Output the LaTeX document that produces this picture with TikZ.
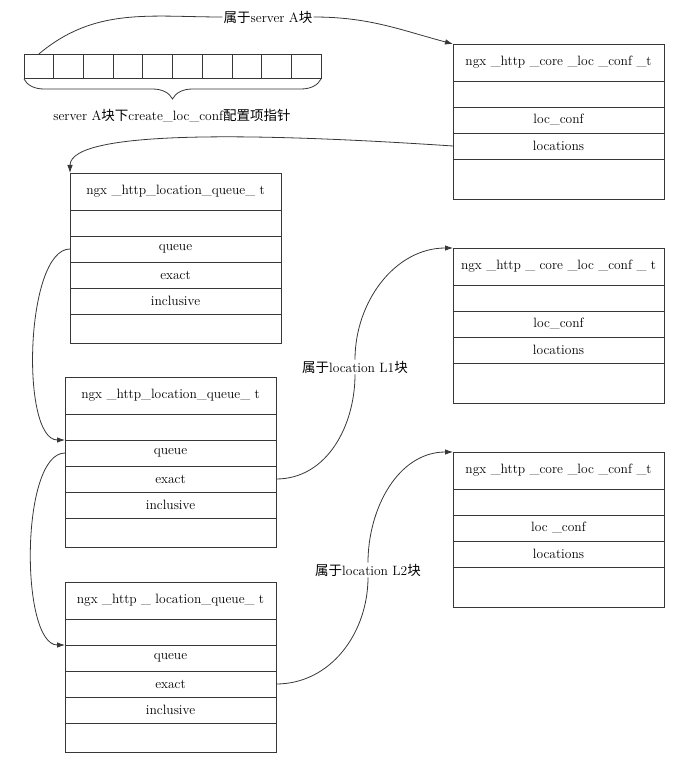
\documentclass[tikz,border=0pt]{standalone}
\usepackage{fontspec}
\newfontfamily\cjk{Noto Sans CJK SC}
\usetikzlibrary{arrows.meta, positioning, decorations.pathreplacing}
\definecolor{linegray}{RGB}{55,55,55}

% struct boxes: name, top-left corner, title, rows
\newcommand{\corebox}[5]{%
    \node[titlerow, anchor=north west] (#1-t) at (#2) {#3};
    \node[fieldrow, below=0pt of #1-t] (#1-e) {};
    \node[fieldrow, below=0pt of #1-e] (#1-l) {#4};
    \node[fieldrow, below=0pt of #1-l] (#1-s) {#5};
    \node[fieldrow, minimum height=40pt, below=0pt of #1-s] (#1-z) {};
}
\newcommand{\queuebox}[3]{%
    \node[titlerow, anchor=north west] (#1-t) at (#2) {#3};
    \node[fieldrow, below=0pt of #1-t] (#1-e) {};
    \node[fieldrow, below=0pt of #1-e] (#1-q) {queue};
    \node[fieldrow, below=0pt of #1-q] (#1-x) {exact};
    \node[fieldrow, below=0pt of #1-x] (#1-i) {inclusive};
    \node[fieldrow, minimum height=29pt, below=0pt of #1-i] (#1-z) {};
}

\begin{document}
\begin{tikzpicture}[
    x=1pt, y=1pt,
    font=\fontsize{13.5}{16}\selectfont,
    row/.style={rectangle, draw=linegray, line width=0.8pt, outer sep=0pt, inner sep=0pt, minimum width=211pt},
    titlerow/.style={row, minimum height=37pt},
    fieldrow/.style={row, minimum height=26pt},
    cell/.style={rectangle, draw=linegray, line width=0.8pt, outer sep=0pt, minimum width=29.7pt, minimum height=24pt},
    lbl/.style={inner sep=1pt},
    link/.style={draw=linegray, line width=0.8pt},
    arrow/.style={link, -{Latex[length=8pt, width=5.5pt]}},
    brace/.style={link, decorate, decoration={brace, mirror, amplitude=20pt}}
]
    \useasboundingbox (0,0) rectangle (680,-770);

    % pointer array of server A
    \foreach \i in {1,...,10}
        \node[cell] (cell-\i) at ({9.15+29.7*\i}, -66) {};
    \draw[brace] ([yshift=-1pt]cell-1.south west) -- ([yshift=-1pt]cell-10.south east);
    \node[lbl] (ptrlbl) at (172,-116) {server A{\cjk 块下}create\_loc\_conf{\cjk 配置项指针}};
    \node[lbl] (salbl) at (268,-17) {{\cjk 属于}server A{\cjk 块}};

    \corebox{c1}{453,-44}{ngx \_http \_core \_loc \_conf \_t}{loc\_conf}{locations}
    \corebox{c2}{453,-248}{ngx \_http \_ core \_loc \_conf \_ t}{loc\_conf}{locations}
    \corebox{c3}{453,-452}{ngx \_http \_core \_loc \_conf \_t}{loc \_conf}{locations}

    \queuebox{q1}{70,-173}{ngx \_http\_location\_queue\_ t}
    \queuebox{q2}{65,-377}{ngx \_http\_location\_queue\_ t}
    \queuebox{q3}{65,-582}{ngx \_http \_ location\_queue\_ t}

    \node[lbl] (l1lbl) at (355,-367) {{\cjk 属于}location L1{\cjk 块}};
    \node[lbl] (l2lbl) at (368,-570) {{\cjk 属于}location L2{\cjk 块}};

    \draw[link] (cell-1.north) to[out=40, in=180] (salbl.west);
    \draw[arrow] (salbl.east) to[out=0, in=165] (c1-t.north west);
    \draw[arrow] (c1-s.west) .. controls +(-180,12) and +(0,45) .. (q1-t.north west);
    \draw[arrow] (q1-q.west) to[out=180, in=180, looseness=0.6] (q2-e.south west);
    \draw[arrow] (q2-q.west) to[out=180, in=180, looseness=0.6] (q3-e.south west);
    \draw[link] (q2-x.east) to[out=0, in=-90] (l1lbl.south);
    \draw[arrow] (l1lbl.north) to[out=90, in=180] (c2-t.north west);
    \draw[link] (q3-x.east) to[out=0, in=-90] (l2lbl.south);
    \draw[arrow] (l2lbl.north) to[out=90, in=180] (c3-t.north west);
\end{tikzpicture}
\end{document}
